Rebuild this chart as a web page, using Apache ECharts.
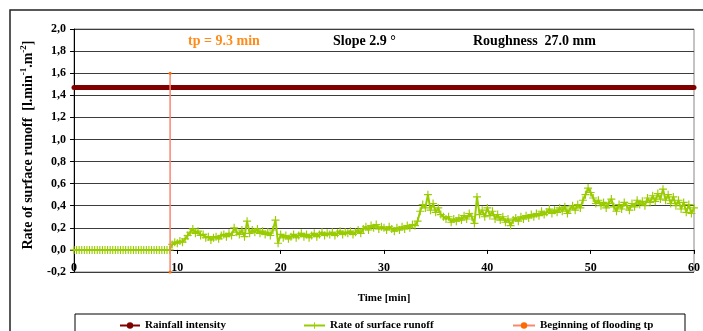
<!DOCTYPE html>
<html><head><meta charset="utf-8">
<script src="https://cdn.jsdelivr.net/npm/echarts@6/dist/echarts.min.js"></script>
<style>html,body{margin:0;padding:0;background:#fff}#c{width:703px;height:331px}</style>
</head><body><div id="c"></div>
<script>
// time [min]
var times = [
0,0.25,0.5,0.75,1,1.25,1.5,1.75,2,2.25,2.5,2.75,3,3.25,3.5,3.75,4,4.25,4.5,4.75,
5,5.25,5.5,5.75,6,6.25,6.5,6.75,7,7.25,7.5,7.75,8,8.25,8.5,8.75,9,9.25,9.5,9.75,
10,10.25,10.5,10.75,11,11.25,11.5,11.75,12,12.25,12.5,12.75,13,13.25,13.5,13.75,14,14.25,14.5,14.75,
15,15.25,15.5,15.75,16,16.25,16.5,16.75,17,17.25,17.5,17.75,18,18.25,18.5,18.75,19,19.25,19.5,19.75,
20,20.25,20.5,20.75,21,21.25,21.5,21.75,22,22.25,22.5,22.75,23,23.25,23.5,23.75,24,24.25,24.5,24.75,
25,25.25,25.5,25.75,26,26.25,26.5,26.75,27,27.25,27.5,27.75,28,28.25,28.5,28.75,29,29.25,29.5,29.75,
30,30.25,30.5,30.75,31,31.25,31.5,31.75,32,32.25,32.5,32.75,33,33.25,33.5,33.75,34,34.25,34.5,34.75,
35,35.25,35.5,35.75,36,36.25,36.5,36.75,37,37.25,37.5,37.75,38,38.25,38.5,38.75,39,39.25,39.5,39.75,
40,40.25,40.5,40.75,41,41.25,41.5,41.75,42,42.25,42.5,42.75,43,43.25,43.5,43.75,44,44.25,44.5,44.75,
45,45.25,45.5,45.75,46,46.25,46.5,46.75,47,47.25,47.5,47.75,48,48.25,48.5,48.75,49,49.25,49.5,49.75,
50,50.25,50.5,50.75,51,51.25,51.5,51.75,52,52.25,52.5,52.75,53,53.25,53.5,53.75,54,54.25,54.5,54.75,
55,55.25,55.5,55.75,56,56.25,56.5,56.75,57,57.25,57.5,57.75,58,58.25,58.5,58.75,59,59.25,59.5,59.75,
60];
// rate of surface runoff [l/min/m2]
var runoff = [
0,0,0,0,0,0,0,0,0,0,0,0,0,0,0,0,0,0,0,0,
0,0,0,0,0,0,0,0,0,0,0,0,0,0,0,0,0,0,0.05,0.07,
0.06,0.08,0.07,0.10,0.13,0.16,0.19,0.15,0.17,0.13,0.14,0.11,0.12,0.09,0.11,0.12,0.10,0.13,0.14,0.12,
0.15,0.13,0.20,0.16,0.14,0.18,0.12,0.26,0.15,0.18,0.16,0.19,0.15,0.17,0.14,0.16,0.13,0.18,0.27,0.06,
0.14,0.11,0.13,0.10,0.12,0.14,0.11,0.13,0.15,0.12,0.14,0.11,0.13,0.15,0.12,0.14,0.16,0.13,0.15,0.14,
0.16,0.13,0.15,0.17,0.14,0.16,0.15,0.17,0.14,0.16,0.18,0.15,0.19,0.21,0.18,0.22,0.20,0.23,0.19,0.21,
0.20,0.18,0.21,0.19,0.17,0.20,0.18,0.21,0.19,0.22,0.20,0.23,0.22,0.26,0.35,0.41,0.38,0.50,0.36,0.42,
0.34,0.38,0.32,0.30,0.28,0.30,0.25,0.28,0.26,0.29,0.27,0.31,0.28,0.33,0.30,0.24,0.48,0.32,0.36,0.30,
0.38,0.31,0.35,0.28,0.32,0.27,0.30,0.25,0.28,0.22,0.27,0.29,0.26,0.30,0.28,0.31,0.29,0.32,0.30,0.33,
0.31,0.35,0.32,0.34,0.37,0.33,0.36,0.34,0.38,0.35,0.39,0.33,0.37,0.40,0.36,0.41,0.38,0.45,0.50,0.56,
0.52,0.47,0.42,0.45,0.40,0.43,0.38,0.42,0.46,0.39,0.35,0.41,0.37,0.43,0.40,0.36,0.42,0.39,0.45,0.41,
0.44,0.40,0.47,0.43,0.49,0.44,0.51,0.46,0.55,0.45,0.50,0.42,0.48,0.40,0.45,0.37,0.43,0.34,0.41,0.33,
0.38];
var rainTimes = [0, 60];
var rainfall = [1.47, 1.47];
var tpTimes = [9.3, 9.3];
var tpValues = [-0.2, 1.6];
var xTicks = [0, 10, 20, 30, 40, 50, 60];
var yTicks = [-0.2, 0, 0.2, 0.4, 0.6, 0.8, 1.0, 1.2, 1.4, 1.6, 1.8, 2.0];

function zip(a, b) { return a.map(function (v, i) { return [v, b[i]]; }); }

var FONT = 'Liberation Serif';
var plus = 'path://M3,0L4,0L4,3L7,3L7,4L4,4L4,7L3,7L3,4L0,4L0,3L3,3Z';

var chart = echarts.init(document.getElementById('c'), null, {renderer: 'canvas'});
var legendText = {fontFamily: FONT, fontWeight: 'bold', fontSize: 11, color: '#000'};
chart.setOption({
  animation: false,
  backgroundColor: '#fff',
  grid: {left: 74, right: 5, top: 29, bottom: 59, show: true, borderColor: '#888', borderWidth: 1},
  xAxis: {
    type: 'value', min: 0, max: 60, interval: 10,
    offset: -22.1,
    axisLine: {onZero: false, lineStyle: {color: '#000', width: 1}},
    axisTick: {show: true, inside: false, length: 4, lineStyle: {color: '#000'}},
    splitLine: {show: false},
    axisLabel: {fontFamily: FONT, fontWeight: 'bold', fontSize: 12, color: '#000', margin: 12,
      formatter: function (v) { return xTicks.indexOf(v) >= 0 ? String(v) : ''; }}
  },
  yAxis: {
    type: 'value', min: -0.2, max: 2.0, interval: 0.2,
    axisLine: {show: true, onZero: false, lineStyle: {color: '#000', width: 1}},
    axisTick: {show: true, length: 4, lineStyle: {color: '#000'}},
    splitLine: {show: true, lineStyle: {color: '#3c3c3c', width: 1}},
    axisLabel: {fontFamily: FONT, fontWeight: 'bold', fontSize: 12, color: '#000', margin: 8,
      formatter: function (v) { return v.toFixed(1).replace('.', ','); }}
  },
  legend: [
    {left: 114, top: 315, itemWidth: 20, itemHeight: 8, textStyle: legendText, data: ['Rainfall intensity']},
    {left: 298, top: 315, itemWidth: 21, itemHeight: 8, textStyle: legendText, data: ['Rate of surface runoff']},
    {left: 507, top: 315, itemWidth: 22, itemHeight: 8, textStyle: legendText, data: ['Beginning of flooding tp']}
  ],
  series: [
    {
      name: 'Rate of surface runoff', type: 'line', data: zip(times, runoff),
      symbol: plus, symbolSize: 8, showAllSymbol: true,
      lineStyle: {color: '#99CC00', width: 2},
      itemStyle: {color: '#99CC00'}, z: 3
    },
    {
      name: 'Rainfall intensity', type: 'line', data: zip(rainTimes, rainfall),
      symbol: 'circle', symbolSize: 5,
      lineStyle: {color: '#800000', width: 5},
      itemStyle: {color: '#800000'}, z: 4
    },
    {
      name: 'Beginning of flooding tp', type: 'line', data: zip(tpTimes, tpValues),
      symbol: 'circle', symbolSize: 3,
      lineStyle: {color: '#F9866E', width: 1.5},
      itemStyle: {color: '#FF6A00'}, z: 5
    }
  ],
  graphic: [
    {type: 'rect', shape: {x: 10, y: 10, width: 720, height: 360}, style: {fill: 'none', stroke: '#222', lineWidth: 1.5}, silent: true, z: 0},
    {type: 'rect', shape: {x: 75, y: 314, width: 610, height: 40}, style: {fill: 'none', stroke: '#000', lineWidth: 1}, silent: true},
    {type: 'text', x: 224, y: 41, style: {text: 'tp = 9.3 min', fill: '#FF8C1A', font: 'bold 14px "Liberation Serif"', textAlign: 'center', textVerticalAlign: 'middle'}},
    {type: 'text', x: 333, y: 41, style: {text: 'Slope 2.9 °', fill: '#000', font: 'bold 14px "Liberation Serif"', textAlign: 'left', textVerticalAlign: 'middle'}},
    {type: 'text', x: 473, y: 41, style: {text: 'Roughness  27.0 mm', fill: '#000', font: 'bold 14px "Liberation Serif"', textAlign: 'left', textVerticalAlign: 'middle'}},
    {type: 'text', x: 384, y: 298, style: {text: 'Time [min]', fill: '#000', font: 'bold 11px "Liberation Serif"', textAlign: 'center', textVerticalAlign: 'middle'}},
    {type: 'text', x: 27, y: 145, rotation: Math.PI / 2,
      style: {
        text: '{n|Rate of surface runoff  [l.min}{s|-1}{n|.m}{s|-2}{n|]}',
        textAlign: 'center', textVerticalAlign: 'middle',
        rich: {
          n: {fontFamily: FONT, fontWeight: 'bold', fontSize: 14, fill: '#000', lineHeight: 16, verticalAlign: 'bottom'},
          s: {fontFamily: FONT, fontWeight: 'bold', fontSize: 9, fill: '#000', lineHeight: 16, verticalAlign: 'top', padding: [0, 0, 6, 0]}
        }
      }}
  ]
});
</script></body></html>
